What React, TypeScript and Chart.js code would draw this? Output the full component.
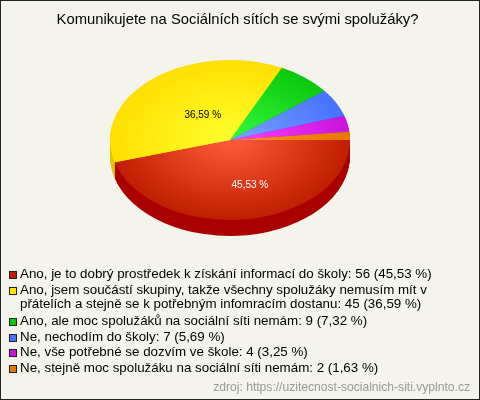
import React, { useEffect, useRef } from "react";
import { Chart, registerables } from "chart.js";

Chart.register(...registerables);

const chartTitle = "Komunikujete na Sociálních sítích se svými spolužáky?";
const sourceNote = "zdroj: https://uzitecnost-socialnich-siti.vyplnto.cz";
const categories = [
  "Ano, je to dobrý prostředek k získání informací do školy",
  "Ano, jsem součástí skupiny, takže všechny spolužáky nemusím mít v přátelích a stejně se k potřebným infomracím dostanu",
  "Ano, ale moc spolužáků na sociální síti nemám",
  "Ne, nechodím do školy",
  "Ne, vše potřebné se dozvím ve škole",
  "Ne, stejně moc spolužáku na sociální síti nemám",
];
const counts = [56, 45, 9, 7, 4, 2];
const percents = ["45,53", "36,59", "7,32", "5,69", "3,25", "1,63"];
const innerColors = ["#ff5c3c", "#ffff2c", "#34fa3c", "#7ba2ff", "#ff40ff", "#ff9024"];
const outerColors = ["#c01e00", "#ffdf00", "#0cc80c", "#4672ff", "#c814dc", "#e67800"];
const sideColors = ["#aa0000", "#dcc800", "#0aa00a", "#3858cc", "#a010b0", "#b86000"];
const swatchColors = ["#c01e00", "#ffe600", "#0cc80c", "#4672ff", "#c814dc", "#e67800"];

const W = 480, H = 400;
const CX = 230, CY = 140, RX = 120, RY = 80, DEPTH = 16;
const FONT = '"Liberation Sans", Arial, sans-serif';

const squash = (ctx: CanvasRenderingContext2D, dy: number) => {
  ctx.translate(CX, CY + dy);
  ctx.scale(1, RY / RX);
  ctx.translate(-CX, -CY);
};

const wrapLegend = (ctx: CanvasRenderingContext2D, text: string, maxW: number) => {
  const lines: string[] = [];
  let cur = "";
  for (const w of text.split(" ")) {
    const t = cur ? cur + " " + w : w;
    if (ctx.measureText(t).width > maxW && cur) {
      lines.push(cur);
      cur = w;
    } else cur = t;
  }
  lines.push(cur);
  return lines;
};

const pie3d = {
  id: "pie3d",
  beforeDraw(chart: any) {
    const ctx = chart.ctx;
    ctx.save();
    ctx.fillStyle = "#f4f4ec";
    ctx.fillRect(0, 0, W, H);
    ctx.restore();
  },
  beforeDatasetsDraw(chart: any) {
    const ctx = chart.ctx;
    const arcs = chart.getDatasetMeta(0).data;
    for (let d = DEPTH; d >= 1; d--) {
      ctx.save();
      squash(ctx, d);
      arcs.forEach((el: any, i: number) => {
        const saved = el.options;
        el.options = { ...saved, backgroundColor: sideColors[i] };
        el.draw(ctx);
        el.options = saved;
      });
      ctx.restore();
    }
    ctx.save();
    squash(ctx, 0);
  },
  afterDatasetsDraw(chart: any) {
    const ctx = chart.ctx;
    ctx.restore();
    const arcs = chart.getDatasetMeta(0).data;

    ctx.save();
    ctx.textBaseline = "middle";
    // slice labels
    ctx.font = `10px ${FONT}`;
    ctx.textAlign = "center";
    arcs.forEach((el: any, i: number) => {
      if (parseFloat(percents[i]) < 10) return;
      const mid = (el.startAngle + el.endAngle) / 2;
      ctx.fillStyle = i === 0 ? "#ffffff" : "#000000";
      ctx.fillText(`${percents[i]} %`, CX + Math.cos(mid) * RX * 0.5 + 11.5, CY + Math.sin(mid) * RY * 0.5 + 6);
    });
    // title
    ctx.fillStyle = "#000000";
    ctx.font = `14.8px ${FONT}`;
    ctx.fillText(chartTitle, 237.5, 19.5);
    // legend
    ctx.textAlign = "left";
    ctx.font = `13.35px ${FONT}`;
    const rowTops = [274.5, 290.5, 321.5, 337, 352.5, 368.5];
    categories.forEach((c, i) => {
      const y = rowTops[i];
      const top = Math.floor(y) - 3;
      ctx.fillStyle = swatchColors[i];
      ctx.fillRect(9, top, 8, 8);
      ctx.strokeStyle = "#222222";
      ctx.lineWidth = 1;
      ctx.strokeRect(9.5, top + 0.5, 7, 7);
      ctx.fillStyle = "#000000";
      const full = `${c}: ${counts[i]} (${percents[i]} %)`;
      wrapLegend(ctx, full, 445).forEach((line, k) => ctx.fillText(line, 20, y + k * 14));
    });
    // source
    ctx.textAlign = "right";
    ctx.font = `12.1px ${FONT}`;
    ctx.fillStyle = "#999999";
    ctx.fillText(sourceNote, 470, 388);
    // frame
    ctx.strokeStyle = "#222222";
    ctx.lineWidth = 1;
    ctx.strokeRect(0.5, 0.5, W - 1, H - 1);
    ctx.restore();
  },
};

export default function App() {
  const ref = useRef<HTMLCanvasElement>(null);
  useEffect(() => {
    document.body.style.margin = "0";
    const canvas = ref.current!;
    const ctx = canvas.getContext("2d")!;
    const fills = innerColors.map((c, i) => {
      const g = ctx.createRadialGradient(CX, CY, 0, CX, CY, RX);
      g.addColorStop(0, c);
      g.addColorStop(1, outerColors[i]);
      return g;
    });
    const chart = new Chart(canvas, {
      type: "pie",
      data: {
        labels: categories,
        datasets: [{ data: counts, backgroundColor: fills, borderWidth: 0, hoverOffset: 0 }],
      },
      options: {
        responsive: false,
        animation: false,
        rotation: 90,
        layout: { padding: { left: CX - RX, right: W - CX - RX, top: CY - RX, bottom: H - CY - RX } },
        plugins: { legend: { display: false }, title: { display: false }, tooltip: { enabled: false } },
      },
      plugins: [pie3d],
    } as any);
    return () => chart.destroy();
  }, []);
  return <canvas ref={ref} width={W} height={H} style={{ display: "block", width: W, height: H }} />;
}
